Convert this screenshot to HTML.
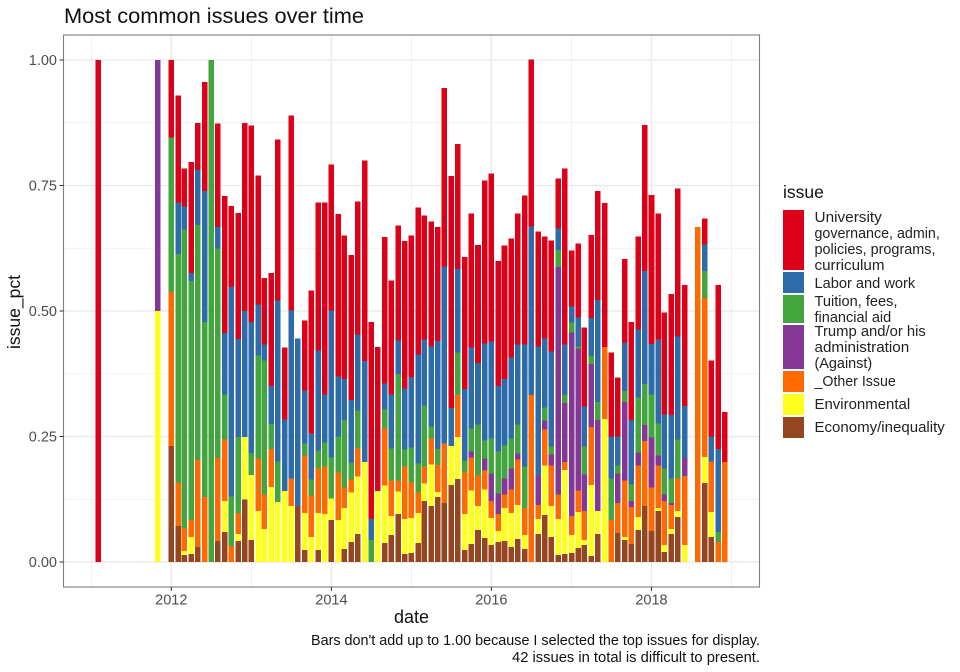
<!DOCTYPE html>
<html lang="en">
<head>
<meta charset="utf-8">
<title>Most common issues over time</title>
<style>
html,body{margin:0;padding:0;background:#fff;}
svg{display:block;}
text{font-family:"Liberation Sans",sans-serif;}
</style>
</head>
<body>
<svg id="chart" xmlns="http://www.w3.org/2000/svg" width="960" height="672" viewBox="0 0 960 672">
<rect x="0" y="0" width="960" height="672" fill="#fff"/>
<text x="64" y="23" font-size="21" textLength="300" lengthAdjust="spacingAndGlyphs" fill="#111">Most common issues over time</text>
<g id="grid"></g>
<g id="bars"></g>
<rect x="63.500" y="35" width="696" height="552" fill="none" stroke="#7f7f7f" stroke-width="1.100"/>
<g id="axes"></g>
<text x="411.500" y="623" font-size="18" text-anchor="middle" fill="#111">date</text>
<text transform="translate(20,312) rotate(-90)" font-size="17.500" text-anchor="middle" fill="#111">issue_pct</text>
<text x="311" y="645" font-size="14.500" textLength="449" lengthAdjust="spacingAndGlyphs" fill="#111">Bars don't add up to 1.00 because I selected the top issues for display.</text>
<text x="512" y="662" font-size="14.500" textLength="248" lengthAdjust="spacingAndGlyphs" fill="#111">42 issues in total is difficult to present.</text>
<g>
<text x="783" y="198" font-size="17.500" fill="#111">issue</text>
<g>
<rect x="783" y="210" width="21" height="60" fill="#dd0019"/>
<text x="814.500" y="222" font-size="14.500" textLength="67.300" lengthAdjust="spacingAndGlyphs" fill="#222">University</text>
<text x="814.500" y="238" font-size="14.500" textLength="125.300" lengthAdjust="spacingAndGlyphs" fill="#222">governance, admin,</text>
<text x="814.500" y="254" font-size="14.500" textLength="121" lengthAdjust="spacingAndGlyphs" fill="#222">policies, programs,</text>
<text x="814.500" y="270" font-size="14.500" textLength="70" lengthAdjust="spacingAndGlyphs" fill="#222">curriculum</text>
</g>
<g>
<rect x="783" y="272" width="21" height="21" fill="#2e6ba9"/>
<text x="814.500" y="288" font-size="14.500" textLength="100.700" lengthAdjust="spacingAndGlyphs" fill="#222">Labor and work</text>
</g>
<g>
<rect x="783" y="295" width="21" height="28" fill="#43a53e"/>
<text x="814.500" y="306" font-size="14.500" textLength="83" lengthAdjust="spacingAndGlyphs" fill="#222">Tuition, fees,</text>
<text x="814.500" y="322" font-size="14.500" textLength="76.700" lengthAdjust="spacingAndGlyphs" fill="#222">financial aid</text>
</g>
<g>
<rect x="783" y="325" width="21" height="44" fill="#853795"/>
<text x="814.500" y="336" font-size="14.500" textLength="111.300" lengthAdjust="spacingAndGlyphs" fill="#222">Trump and/or his</text>
<text x="814.500" y="352" font-size="14.500" textLength="94.700" lengthAdjust="spacingAndGlyphs" fill="#222">administration</text>
<text x="814.500" y="368" font-size="14.500" textLength="57.700" lengthAdjust="spacingAndGlyphs" fill="#222">(Against)</text>
</g>
<g>
<rect x="783" y="371" width="21" height="21" fill="#ff6a00"/>
<text x="814.500" y="386" font-size="14.500" textLength="81.300" lengthAdjust="spacingAndGlyphs" fill="#222">_Other Issue</text>
</g>
<g>
<rect x="783" y="394" width="21" height="21" fill="#ffff1e"/>
<text x="814.500" y="409" font-size="14.500" textLength="95.700" lengthAdjust="spacingAndGlyphs" fill="#222">Environmental</text>
</g>
<g>
<rect x="783" y="417" width="21" height="21" fill="#954520"/>
<text x="814.500" y="432" font-size="14.500" textLength="130.300" lengthAdjust="spacingAndGlyphs" fill="#222">Economy/inequality</text>
</g>
</g>
</svg>
<script>
const months = [
"2011-02","2011-11",
"2012-01","2012-02","2012-03","2012-04","2012-05","2012-06","2012-07","2012-08","2012-09","2012-10","2012-11","2012-12",
"2013-01","2013-02","2013-03","2013-04","2013-05","2013-06","2013-07","2013-08","2013-09","2013-10","2013-11","2013-12",
"2014-01","2014-02","2014-03","2014-04","2014-05","2014-06","2014-07","2014-08","2014-09","2014-10","2014-11","2014-12",
"2015-01","2015-02","2015-03","2015-04","2015-05","2015-06","2015-07","2015-08","2015-09","2015-10","2015-11","2015-12",
"2016-01","2016-02","2016-03","2016-04","2016-05","2016-06","2016-07","2016-08","2016-09","2016-10","2016-11","2016-12",
"2017-01","2017-02","2017-03","2017-04","2017-05","2017-06","2017-07","2017-08","2017-09","2017-10","2017-11","2017-12",
"2018-01","2018-02","2018-03","2018-04","2018-05","2018-06","2018-08","2018-09","2018-10","2018-11","2018-12"];
const economy = [
0,0,
.231,.072,.014,.016,.030,0,0,.042,.060,0,.042,.125,
.044,0,0,0,0,0,0,.112,.024,0,.024,0,
.084,0,.026,.040,.056,0,0,0,.038,.054,.096,.016,
.018,.038,.122,.112,.129,.118,.153,.165,.024,.036,.064,.048,
.034,.040,.042,.030,.046,.026,0,.056,.094,.050,.014,.016,
.018,.028,.034,.012,.056,0,0,.058,.044,.036,.064,.112,
.062,.102,.020,.056,.090,0,0,.157,.050,0,0];
const environmental = [
0,.5,
0,0,.008,.034,0,0,0,0,.062,0,.014,.124,
.129,.102,.066,.149,.120,.141,.112,0,.074,.050,.074,.096,
.042,.084,.082,.098,.114,.199,0,.141,.114,.038,.044,.070,
.070,.060,.034,.082,.010,0,.078,.084,.072,.106,.048,.096,
.054,.022,.066,.068,.068,.028,0,.030,.098,.062,.072,.167,
.036,.072,.010,.141,.046,.285,0,0,.006,0,.026,0,
0,.006,.014,.010,.012,.034,0,.052,.050,0,0];
const otherIssue = [
0,0,
.307,.086,.046,.034,.173,.129,0,.165,.122,.032,.042,0,
0,.104,.068,.076,0,0,.054,0,.114,.082,.088,.094,
0,.094,.040,.026,.056,0,0,0,.114,.070,.022,.104,
.070,.040,.034,.052,.054,.118,0,.084,.082,.066,.060,.038,
.034,.034,.026,.046,.090,.054,.333,.028,.072,.080,.048,.016,
.038,.042,.058,.116,0,.143,.084,.060,.112,.074,.102,.129,
.086,.084,.088,.048,.064,.137,.667,.317,.100,.040,.199];
const trump = [
0,.5,
0,0,0,0,0,0,0,0,0,0,0,0,
0,0,0,0,0,0,0,0,0,0,0,0,
0,0,0,0,0,0,0,0,0,0,0,0,
0,0,0,0,0,0,0,0,0,.012,0,.024,
.054,.040,.032,.042,.012,0,0,.058,.018,.022,.454,.118,
.365,.283,.072,.125,.181,0,0,.058,.157,.012,.026,.032,
.100,.020,.012,.004,0,.036,0,0,0,0,0];
const tuition = [
0,0,
.308,.456,.594,.476,.468,.349,1,.418,.090,.098,.151,0,
.044,.205,.267,.050,.080,0,0,0,.024,.032,.036,.048,
.082,.072,.135,.034,.076,0,.044,0,.038,.064,.213,.034,
.070,.058,.122,.024,.032,0,0,.084,.024,.046,.102,.036,
.070,.084,.066,.060,.058,.082,0,0,.026,.016,.034,.016,
.020,.004,.056,.016,.036,0,.082,.016,.022,.032,.110,.082,
.086,.064,.052,.048,.078,0,0,.054,0,.020,0];
const labor = [
0,0,
0,.102,.046,.016,.110,.261,0,.042,.122,.418,.195,.251,
.261,.102,.032,.076,.321,.143,.335,.333,.106,.092,.199,.096,
.293,.120,.082,.125,.151,.201,.042,0,.052,.108,.066,.122,
.141,.217,.131,.159,.215,.353,.076,.167,.143,.161,.122,.193,
.193,.131,.133,.161,.159,.243,.335,.257,.137,.189,.042,.100,
.032,.058,.080,.076,.203,0,.084,.058,.096,.129,.135,.225,
.100,.167,.108,.127,.205,.104,0,.052,.050,.165,0];
const university = [
1,0,
.154,.213,.076,.221,.094,.217,0,.207,.273,.161,.251,.375,
.392,.257,.133,.225,.321,.143,.388,0,.139,.285,.295,.382,
.291,.323,.285,.289,.265,.400,.392,.287,.291,.227,.229,.293,
.281,.293,.247,.249,.227,.355,.462,.249,.263,.267,.235,.325,
.335,.249,.265,.237,.261,.297,.333,.229,.203,.221,.100,.351,
.112,.147,.157,.165,.217,.287,.167,.118,.167,.195,.185,.291,
.297,.251,.203,.241,.295,.241,0,.052,.151,.327,.100];
const yTicks = [0,.25,.5,.75,1];
const yTickLabels = ["0.00","0.25","0.50","0.75","1.00"];
const yMinor = [.125,.375,.625,.875];
const xTicks = ["2012","2014","2016","2018"];
const xMinor = ["2011","2013","2015","2017","2019"];

const NS = "http://www.w3.org/2000/svg";
const D0 = Date.UTC(2012,0,1);
const PX_PER_DAY = 480.2/2192;
function xScale(ym){
  const p = ym.split("-");
  const d = (Date.UTC(+p[0],(p[1]?+p[1]:1)-1,1)-D0)/864e5;
  return 171.3 + d*PX_PER_DAY;
}
function yScale(v){ return 562 - v*502; }
function mk(tag,attrs,parent){
  const e = document.createElementNS(NS,tag);
  for(const k in attrs) e.setAttribute(k,attrs[k]);
  parent.appendChild(e);
  return e;
}
const grid = document.getElementById("grid");
const bars = document.getElementById("bars");
const axes = document.getElementById("axes");
yMinor.forEach(function(v){
  const l = mk("line",{x1:63.5,x2:759.5,y1:yScale(v),y2:yScale(v),stroke:"#ececec","stroke-width":0.8},grid);
  
  
});
xMinor.forEach(function(v){
  const l = mk("line",{x1:xScale(v),x2:xScale(v),y1:35,y2:587,stroke:"#ececec","stroke-width":0.8},grid);
  
  
});
yTicks.forEach(function(v,i){
  const l = mk("line",{x1:63.5,x2:759.5,y1:yScale(v),y2:yScale(v),stroke:"#e8e8e8","stroke-width":1.3},grid);
  
  
  const t = mk("line",{x1:59.5,x2:63.5,y1:yScale(v),y2:yScale(v),stroke:"#333","stroke-width":1},axes);
  
  
  const lb = mk("text",{x:57,y:yScale(v)+5,"font-size":14.5,"text-anchor":"end",fill:"#4d4d4d"},axes);
  
  
  lb.textContent = yTickLabels[i];
});
xTicks.forEach(function(v){
  const l = mk("line",{x1:xScale(v),x2:xScale(v),y1:35,y2:587,stroke:"#e8e8e8","stroke-width":1.3},grid);
  
  
  const t = mk("line",{x1:xScale(v),x2:xScale(v),y1:587,y2:591,stroke:"#333","stroke-width":1},axes);
  
  
  const lb = mk("text",{x:xScale(v),y:604.5,"font-size":14.5,"text-anchor":"middle",fill:"#4d4d4d"},axes);
  
  
  lb.textContent = v;
});
const seriesNames = ["economy","environmental","other","trump","tuition","labor","university"];
const seriesValues = [economy,environmental,otherIssue,trump,tuition,labor,university];
const seriesColors = ["#954520","#ffff1e","#ff6a00","#853795","#43a53e","#2e6ba9","#dd0019"];
const BAR_W = 25.2*PX_PER_DAY;
months.forEach(function(m,i){
  let cum = 0;
  const cx = xScale(m);
  seriesValues.forEach(function(vals,s){
    const v = vals[i];
    if(!v) return;
    const top = yScale(cum+v), bot = yScale(cum);
    const r = mk("rect",{x:cx-BAR_W/2,y:top,width:BAR_W,height:bot-top,fill:seriesColors[s],"shape-rendering":"crispEdges"},bars);
    
    
    cum += v;
  });
});
</script>
</body>
</html>
